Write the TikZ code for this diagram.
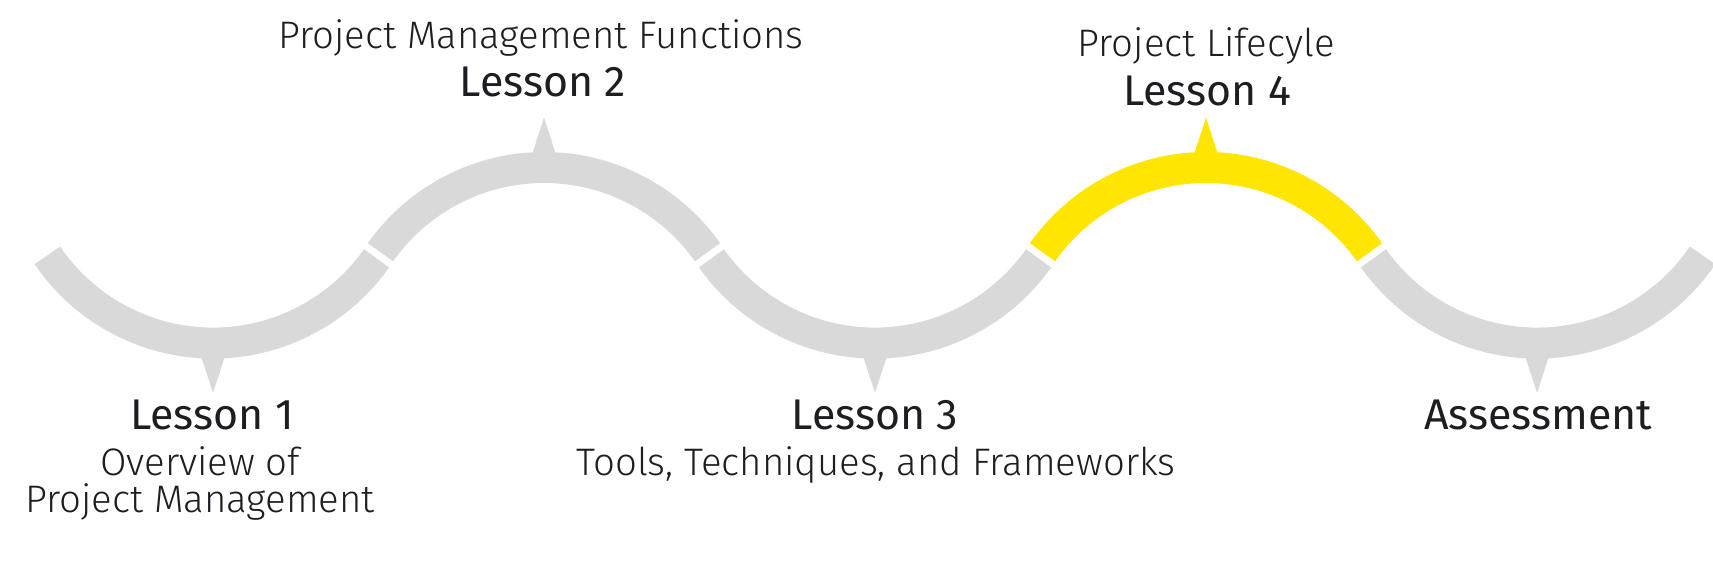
\documentclass[tikz,border=0pt]{standalone}
\usepackage{fontspec}
\setmainfont{Fira Sans Light}[BoldFont={Fira Sans}]
\usepackage{tikz}
\usetikzlibrary{positioning}
\definecolor{ashgray}{HTML}{D9D9D9}
\definecolor{eyyellow}{HTML}{FFE600}
\definecolor{ink}{HTML}{1E1E22}
\tikzset{
  wave/.style={line width=0.31cm, line cap=butt},
  head/.style={font=\bfseries\fontsize{12.2}{14}\selectfont, text=ink, anchor=base, inner sep=0pt},
  sub/.style={font=\fontsize{10.9}{13}\selectfont, text=ink, anchor=base, inner sep=0pt}
}

\begin{document}
\begin{tikzpicture}[x=0.01cm, y=0.01cm]
  \useasboundingbox (0,0) rectangle (1713,561);

  % wave, one arc per lesson
  \foreach \n/\cx/\cy/\a/\b/\d/\col in {
      1/213/418/214.16/324.8/-1/ashgray,
      2/544/193.4/144.8/35.2/1/ashgray,
      3/875/418/215.2/324.8/-1/ashgray,
      4/1206/193.4/144.8/35.2/1/eyyellow,
      5/1537/418/215.2/325.84/-1/ashgray}
  {
    \coordinate (c\n) at (\cx,\cy);
    \draw[wave, draw=\col] ([shift={(\a:2cm)}]c\n)
      arc[start angle=\a, end angle=\b, radius=2cm];
    \fill[\col] ([shift={(-12,\d*213)}]c\n) -- ([shift={(0,\d*250)}]c\n)
      -- ([shift={(12,\d*213)}]c\n) -- cycle;
  }

  % labels
  \node[head] (L1) at (212,131) {Lesson 1};
  \node[sub] (O1) at (200,85) {Overview of};
  \node[sub] (P1) at (200,48) {Project Management};

  \node[head] (L2) at (543,464) {Lesson 2};
  \node[sub] (F2) at (541,512) {Project Management Functions};

  \node[head] (L3) at (875,131) {Lesson 3};
  \node[sub] (T3) at (876,85) {Tools, Techniques, and Frameworks};

  \node[head] (L4) at (1207,455) {Lesson 4};
  \node[sub] (F4) at (1206,504) {Project Lifecyle};

  \node[head] (A5) at (1538,131) {Assessment};
\end{tikzpicture}
\end{document}
